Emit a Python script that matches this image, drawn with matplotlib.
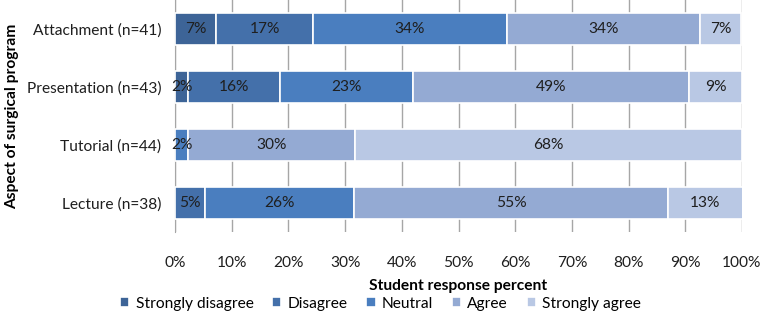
import numpy as np
from matplotlib import pyplot as plt
from matplotlib.ticker import PercentFormatter

plt.rcParams["font.family"] = ["Lato", "DejaVu Sans"]

FONTSIZE = 11.2

# rows top to bottom
aspects = ["Attachment (n=41)", "Presentation (n=43)", "Tutorial (n=44)", "Lecture (n=38)"]
responses = ["Strongly disagree", "Disagree", "Neutral", "Agree", "Strongly agree"]
strongly_disagree = [7.3, 2.3, 0.0, 0.0]
disagree = [17.1, 16.3, 0.0, 5.3]
neutral = [34.1, 23.3, 2.3, 26.3]
agree = [34.1, 48.8, 29.5, 55.3]
strongly_agree = [7.3, 9.3, 68.2, 13.2]
labels = [
    ["7%", "17%", "34%", "34%", "7%"],
    ["2%", "16%", "23%", "49%", "9%"],
    ["", "", "2%", "30%", "68%"],
    ["", "5%", "26%", "55%", "13%"],
]
colors = ["#3d6497", "#4470aa", "#4a7ebf", "#94aad3", "#b9c8e4"]

series = [strongly_disagree, disagree, neutral, agree, strongly_agree]

fig = plt.figure(figsize=(7.61, 3.18), dpi=100)
ax = fig.add_axes([0.23, 0.2704, 0.745, 0.7296])

y = np.arange(len(aspects))
left = np.zeros(len(aspects))
for i, (name, vals) in enumerate(zip(responses, series)):
    vals = np.asarray(vals)
    ax.barh(y, vals, left=left, height=0.54, color=colors[i], edgecolor="white",
            linewidth=1.2, label=name, zorder=3)
    for j in range(len(aspects)):
        if labels[j][i]:
            ax.text(left[j] + vals[j] / 2, y[j], labels[j][i], ha="center", va="center",
                    fontsize=FONTSIZE, color="#1f1f1f", zorder=4)
    left += vals

ax.set_ylim(len(aspects) - 0.5, -0.5)
ax.set_xlim(0, 100)
ax.set_xticks(np.arange(0, 101, 10))
ax.xaxis.set_major_formatter(PercentFormatter(decimals=0))
ax.set_yticks(y)
ax.set_yticklabels(aspects, fontsize=FONTSIZE, color="#1f1f1f")
ax.tick_params(axis="x", labelsize=FONTSIZE, labelcolor="#1f1f1f", length=0, pad=17)
ax.tick_params(axis="y", length=0, pad=10)
ax.grid(axis="x", color="#a6a6a6", linewidth=1, zorder=0)
for s in ["top", "right", "bottom"]:
    ax.spines[s].set_visible(False)
ax.spines["left"].set_color("#a6a6a6")

ax.set_xlabel("Student response percent", fontsize=FONTSIZE, fontweight="bold", labelpad=7)
fig.text(0.016, 0.635, "Aspect of surgical program", rotation=90, ha="center", va="center",
         fontsize=FONTSIZE, fontweight="bold")

handles, lbls = ax.get_legend_handles_labels()
fig.legend(handles, lbls, loc="center", bbox_to_anchor=(0.5, 0.045), ncol=5, frameon=False,
           fontsize=FONTSIZE, handlelength=0.6, handleheight=0.6, handletextpad=0.4,
           columnspacing=1.2)

fig.savefig("out.png", dpi=100)
